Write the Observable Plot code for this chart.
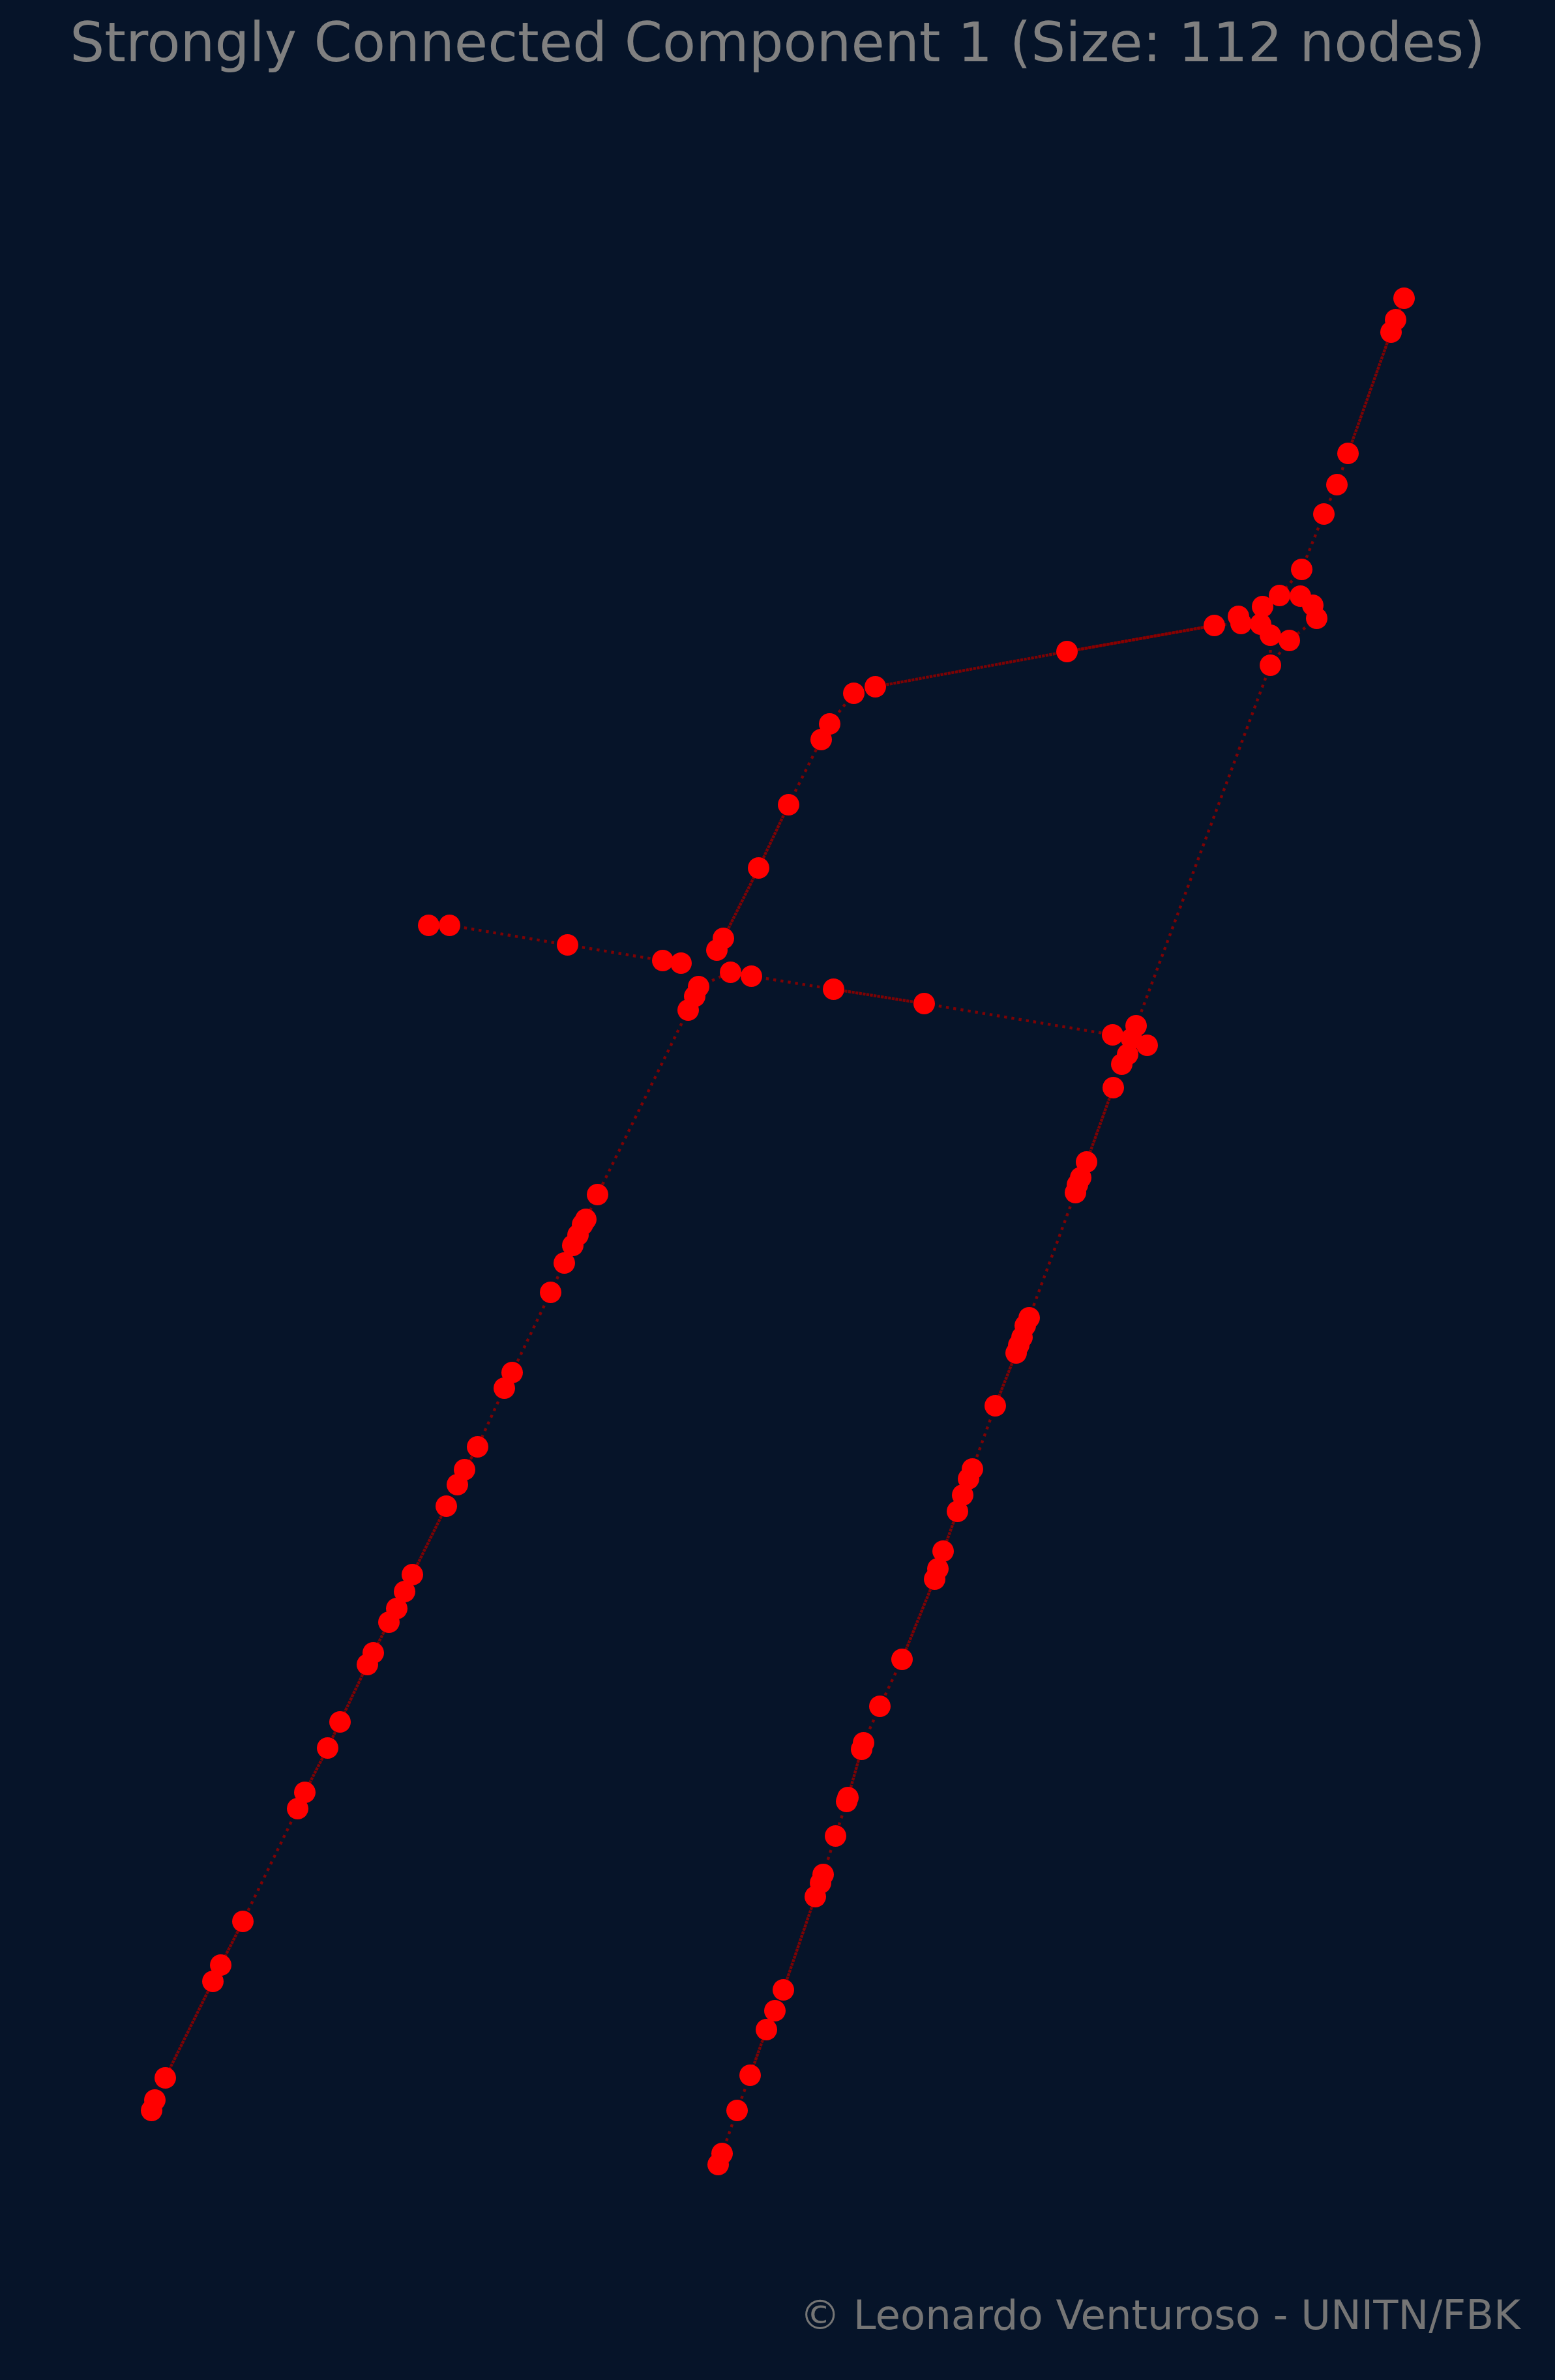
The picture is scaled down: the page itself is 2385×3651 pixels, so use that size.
<!DOCTYPE html>
<html>
<head>
<meta charset="utf-8">
<script src="https://cdn.jsdelivr.net/npm/d3@7"></script>
<script src="https://cdn.jsdelivr.net/npm/@observablehq/plot@0.6"></script>
<style>
  html, body { margin: 0; padding: 0; background: #061429; }
  #page { position: relative; width: 2385px; height: 3651px; background: #061429; overflow: hidden; }
  #title { position: absolute; left: 0; top: 24px; width: 2385px; text-align: center;
           font-family: "DejaVu Sans", sans-serif; font-size: 83.5px; line-height: 83.5px; color: #808080; white-space: nowrap; }
  #chart { position: absolute; left: 0; top: 150px; }
  #footer { position: absolute; right: 53px; top: 3521px; font-family: "DejaVu Sans", sans-serif;
            font-size: 62.5px; line-height: 62.5px; color: #757575; white-space: nowrap; }
</style>
</head>
<body>
<div id="page">
  <div id="title">Strongly Connected Component 1 (Size: 112 nodes)</div>
  <div id="chart"></div>
  <div id="footer">© Leonardo Venturoso - UNITN/FBK</div>
</div>
<script>
// Node layout positions (layout units)
const nodeX = [
  2153,2140,2133,2067,2050,2030,1996,1962,1994,2013,
  2019,1936,1899,1903,1933,1948,1977,1948,1862,1636,
  1342,1309,1272,1259,1209,1163,1109,1099,657,689,
  870,1016,1044,1120,1152,1071,1065,1055,1278,1417,
  1706,1742,1759,1735,1729,1720,1707,1666,1657,1652,
  1649,1578,1572,1567,1562,1558,1526,1491,1485,1476,
  1468,1446,1438,1433,1383,1349,1324,1321,1300,1298,
  1281,1262,1258,1250,1201,1188,1175,1150,1130,1107,
  1101,916,898,893,886,878,865,844,785,773,
  732,712,701,684,632,620,608,596,572,563,
  521,502,467,456,372,338,326,253,237,232
];
const nodeY = [
  457,490,509,695,743,788,873,913,914,928,
  948,930,945,956,957,974,982,1020,959,999,
  1053,1063,1110,1134,1234,1331,1439,1457,1419,1419,
  1449,1473,1477,1491,1497,1513,1528,1549,1517,1539,
  1587,1573,1603,1593,1617,1632,1668,1782,1806,1817,
  1829,2021,2033,2051,2063,2075,2156,2253,2268,2293,
  2318,2379,2406,2422,2545,2617,2673,2683,2757,2763,
  2816,2875,2888,2909,3052,3084,3113,3183,3237,3303,
  3320,1832,1870,1878,1894,1910,1937,1982,2105,2129,
  2219,2254,2277,2310,2415,2441,2467,2488,2535,2553,
  2641,2681,2749,2774,2947,3014,3039,3187,3221,3237
];
// Directed edges (1-based node numbers); twoWay = edge present in both directions
const edgeFrom = [
  1,2,3,4,5,6,7,8,9,10,11,17,16,15,12,12,13,14,19,
  20,21,22,23,24,25,26,27,28,33,36,36,37,38,
  29,30,31,32,34,35,39,40,
  41,44,44,44,45,46,42,
  47,48,49,50,51,52,53,54,55,56,57,58,59,60,61,62,63,64,65,66,67,68,69,70,71,72,73,74,75,76,77,78,79,80,
  82,83,84,85,86,87,88,89,90,91,92,93,94,95,96,97,98,99,100,101,102,103,104,105,106,107,108,109
];
const edgeTo = [
  2,3,4,5,6,7,8,9,10,11,17,18,18,16,15,8,14,19,20,
  19,20,21,22,23,24,25,26,27,33,34,37,38,82,
  30,31,32,33,35,39,40,41,
  44,42,43,45,46,47,18,
  48,49,50,51,52,53,54,55,56,57,58,59,60,61,62,63,64,65,66,67,68,69,70,71,72,73,74,75,76,77,78,79,80,81,
  83,84,85,86,87,88,89,90,91,92,93,94,95,96,97,98,99,100,101,102,103,104,105,106,107,108,109,110
];
const edgeTwoWay = [
  1,1,1,0,0,0,0,0,0,0,0,0,0,0,0,0,0,0,1,
  1,1,0,0,0,0,1,1,1,0,0,0,0,0,
  1,0,0,1,1,0,1,0,
  0,0,0,0,0,0,0,
  1,0,0,0,0,0,0,0,0,1,0,0,0,0,1,0,0,1,0,0,0,1,0,0,0,0,0,1,0,0,1,0,0,0,
  0,0,0,0,0,0,0,0,0,1,0,0,1,0,0,0,1,0,1,1,1,0,0,1,0,1,0,0
];

const nodes = nodeX.map((x, i) => ({id: i + 1, x, y: nodeY[i]}));
const byId = new Map(nodes.map(n => [n.id, n]));
const links = edgeFrom.map((f, i) => {
  const a = byId.get(f), b = byId.get(edgeTo[i]);
  return {x1: a.x, y1: a.y, x2: b.x, y2: b.y, twoWay: edgeTwoWay[i] === 1};
});
const linkStyle = {stroke: "#8b0000", strokeOpacity: 0.9, strokeWidth: 4.4,
  strokeDasharray: "4.4 6.9", strokeLinecap: "butt"};

const svg = Plot.plot({
  width: 2385,
  height: 3250,
  margin: 0,
  style: {background: "transparent", overflow: "visible"},
  x: {domain: [0, 2385], range: [0, 2385], axis: null},
  y: {domain: [150, 3400], range: [0, 3250], axis: null},
  marks: [
    Plot.link(links, {x1: "x1", y1: "y1", x2: "x2", y2: "y2", ...linkStyle}),
    // second direction of two-way edges: its dots fall into the gaps of the first
    Plot.link(links.filter(d => d.twoWay), {x1: "x1", y1: "y1", x2: "x2", y2: "y2", ...linkStyle,
      strokeDashoffset: -5.65}),
    Plot.dot(nodes, {x: "x", y: "y", r: 16.5, fill: "#ff0000", stroke: "none"})
  ]
});
document.getElementById("chart").appendChild(svg);
</script>
</body>
</html>
